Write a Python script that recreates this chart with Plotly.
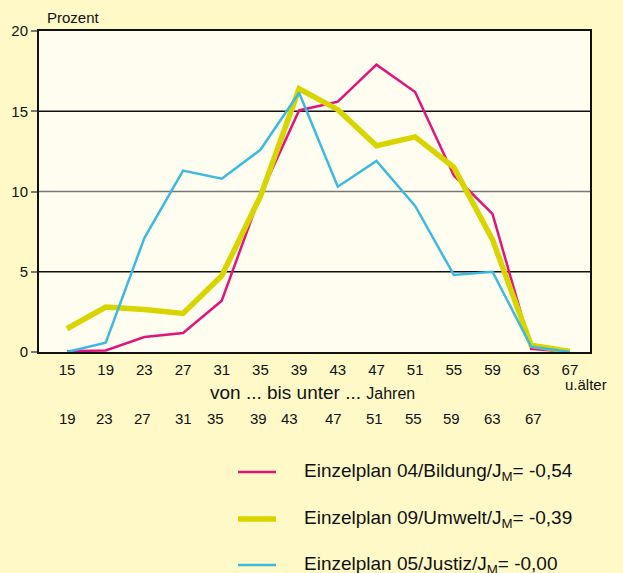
import plotly.graph_objects as go

categories = ["15", "19", "23", "27", "31", "35", "39", "43", "47", "51", "55", "59", "63", "67"]
upper_labels = ["19", "23", "27", "31", "35", "39", "43", "47", "51", "55", "59", "63", "67"]
upper_pos = [0.0, 0.97, 1.95, 3.0, 3.85, 4.95, 5.75, 6.9, 7.95, 8.95, 9.95, 11.0, 12.05]

bildung = [0.05, 0.1, 0.93, 1.18, 3.2, 9.8, 15.05, 15.6, 17.9, 16.2, 11.0, 8.6, 0.2, 0.0]
umwelt = [1.45, 2.8, 2.65, 2.4, 4.75, 9.7, 16.4, 15.1, 12.85, 13.4, 11.5, 7.0, 0.42, 0.03]
justiz = [0.0, 0.58, 7.1, 11.3, 10.8, 12.6, 16.15, 10.3, 11.9, 9.1, 4.8, 5.0, 0.33, 0.0]

series_names = [
    "Einzelplan 04/Bildung/J<sub>M</sub>= -0,54",
    "Einzelplan 09/Umwelt/J<sub>M</sub>= -0,39",
    "Einzelplan 05/Justiz/J<sub>M</sub>= -0,00",
]
colors = ["#E2137B", "#D8D400", "#3DB9E1"]
widths = [2.5, 5.5, 2.5]

x = list(range(len(categories)))

fig = go.Figure()
for vals, name, c, w in zip([bildung, umwelt, justiz], series_names, colors, widths):
    fig.add_trace(go.Scatter(x=x, y=vals, mode="lines", name=name,
                             line=dict(color=c, width=w), showlegend=False))

FONT = "Liberation Sans, Arial, sans-serif"
fig.update_layout(
    width=623, height=573,
    margin=dict(l=39, r=33, t=31, b=221),
    paper_bgcolor="#FEF9C6",
    plot_bgcolor="#FFFDEF",
    font=dict(family=FONT, size=15, color="#111111"),
    xaxis=dict(range=[-0.724, 13.52], tickmode="array", tickvals=x, ticktext=categories,
               showgrid=False, zeroline=False, showline=True, linecolor="#111111", linewidth=2,
               mirror=True, ticks="outside", ticklen=3, tickcolor="rgba(0,0,0,0)",
               tickfont=dict(size=15, family=FONT)),
    yaxis=dict(range=[0, 20], tickvals=[0, 5, 10, 15, 20], showgrid=False, zeroline=False,
               showline=True, linecolor="#111111", linewidth=2, mirror=True,
               ticks="outside", ticklen=6, tickcolor="#777777", tickwidth=1.5,
               tickfont=dict(size=15, family=FONT)),
)

shapes = []
for yv, col in [(5, "#111111"), (10, "#777777"), (15, "#111111")]:
    shapes.append(dict(type="line", xref="paper", yref="y", x0=0, x1=1, y0=yv, y1=yv,
                       line=dict(color=col, width=1.5), layer="below"))

annotations = [
    dict(text="Prozent", xref="paper", yref="paper", x=(45 - 39) / 551, y=1 + (31 - 17) / 321,
         xanchor="left", yanchor="middle", showarrow=False, font=dict(size=15)),
    dict(text="u.älter", xref="x", yref="paper", x=(586 - 67) / 38.69, y=-(385 - 352) / 321,
         xanchor="center", yanchor="middle", showarrow=False, font=dict(size=15)),
    dict(text="von ... bis unter ... <span style='font-size:16px'>Jahren</span>", xref="x",
         yref="paper", x=(313 - 67) / 38.69, y=-(392 - 352) / 321,
         xanchor="center", yanchor="middle", showarrow=False, font=dict(size=19)),
]
for lab, p in zip(upper_labels, upper_pos):
    annotations.append(dict(text=lab, xref="x", yref="paper", x=p, y=-(418 - 352) / 321,
                            xanchor="center", yanchor="middle", showarrow=False,
                            font=dict(size=15)))

legend_y = [472, 519, 565]
for name, c, w, py in zip(series_names, colors, widths, legend_y):
    shapes.append(dict(type="line", xref="paper", yref="paper",
                       x0=(238 - 39) / 551, x1=(276 - 39) / 551,
                       y0=-(py - 352) / 321, y1=-(py - 352) / 321,
                       line=dict(color=c, width=w)))
    annotations.append(dict(text=name, xref="paper", yref="paper",
                            x=(302 - 39) / 551, y=-(py - 352) / 321,
                            xanchor="left", yanchor="middle", showarrow=False,
                            font=dict(size=19)))

fig.update_layout(shapes=shapes, annotations=annotations)
fig.write_html("out.html", config={"displayModeBar": False},
               post_script="document.body.style.margin='0';document.body.style.padding='0';")
